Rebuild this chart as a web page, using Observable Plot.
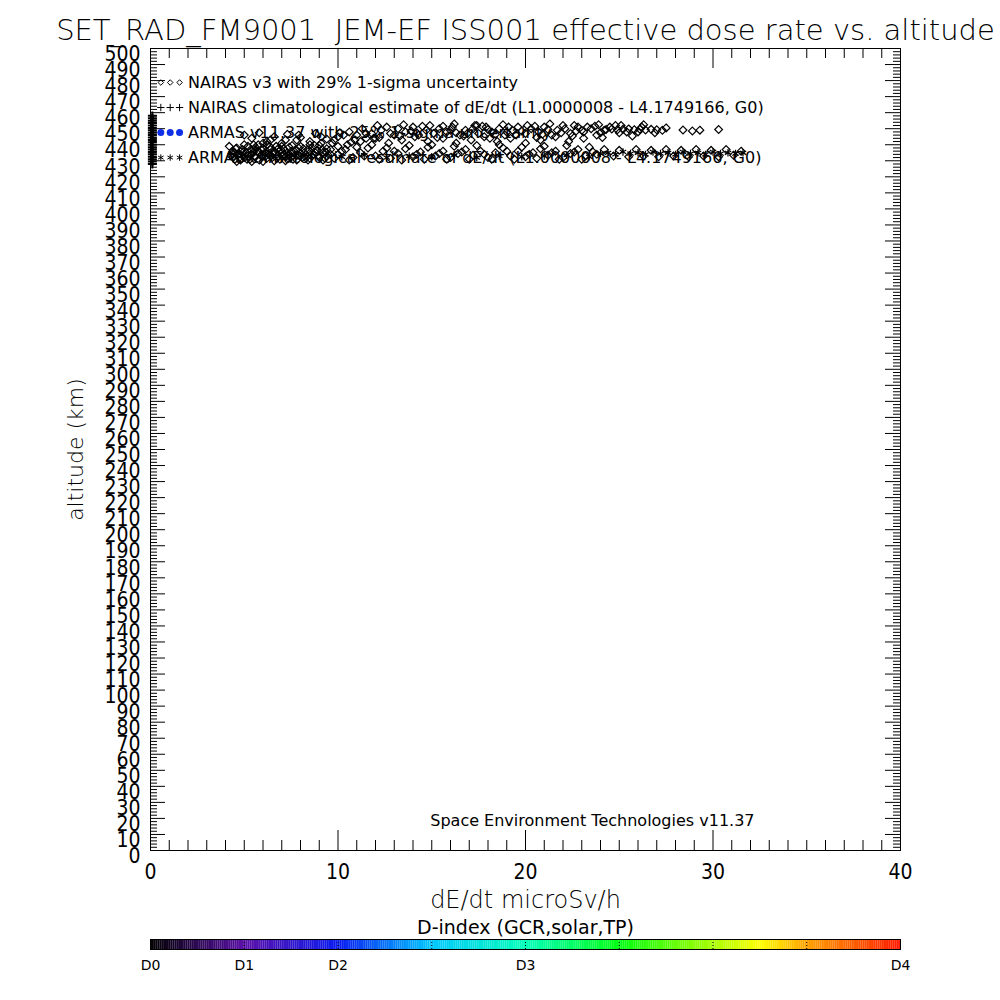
<!DOCTYPE html>
<html><head><meta charset="utf-8">
<script src="https://cdn.jsdelivr.net/npm/d3@7"></script>
<script src="https://cdn.jsdelivr.net/npm/@observablehq/plot@0.6"></script>
<style>
body{margin:0;background:#fff;}
#wrap{width:1000px;height:1000px;background:#fff;}
svg{display:block;}
svg text{white-space:pre;}
</style></head><body><div id="wrap"></div>
<script>
// ---------- texts ----------
const titleText = "SET_RAD_FM9001  JEM-EF ISS001 effective dose rate vs. altitude";
const xLabel = "dE/dt microSv/h";
const yLabel = "altitude (km)";
const footText = "Space Environment Technologies v11.37";
const legendLabels = [
  "NAIRAS v3 with 29% 1-sigma uncertainty",
  "NAIRAS climatological estimate of dE/dt (L1.0000008 - L4.1749166, G0)",
  "ARMAS v11.37 with 25% 1-sigma uncertainty",
  "ARMAS climatological estimate of dE/dt (L1.0000008 - L4.1749166, G0)"
];
const legendAlt = [478.8, 463.2, 447.6, 432.0];
const legendSymX = [0.55, 1.05, 1.55];
const legendTextX = 2.0;

// ---------- axes ----------
const xDomain = [0, 40];
const yDomain = [0, 500];
const xTickLabels = [0, 10, 20, 30, 40];
const yTickLabels = d3.range(0, 501, 10);
const xMinor = d3.range(0, 41, 1).filter(d => d % 10 !== 0);
const yMajor = d3.range(0, 501, 10);
const yMinor = d3.range(0, 501, 2).filter(d => d % 10 !== 0);

// ---------- colour bar ----------
const dIndexLabels = ["D0", "D1", "D2", "D3", "D4"];
const dIndexPos = [0, 1, 2, 4, 8];
const dIndexTicks = [1, 2, 3, 4, 5, 6, 7];
const colorStops = [0, 1, 2, 3, 4, 5, 6, 6.5, 7, 8];
const colorRange = ["#000000", "#5a10a8", "#0a1cf0", "#00c8ff", "#00ffb8", "#00ff10", "#a8ff00", "#ffff00", "#ffa000", "#ff1800"];
const colorbarTitle = "D-index (GCR,solar,TP)";

// ---------- data (x = dE/dt microSv/h, alt = km) ----------
// NAIRAS v3 (diamonds) - upper band
const nairasUpper = [
  [5.4,444],[6.0,441],[6.6,445],[7.2,443],[7.9,446],[8.5,442],[9.1,445],[9.7,441],[10.3,446],[10.9,443],
  [11.5,447],[12.0,444],[12.3,449],[12.8,447],[13.2,450],[13.6,448],[14.0,451],[14.3,446],[14.7,449],[15.1,447],
  [15.4,450],[15.8,448],[16.1,451],[16.5,446],[16.8,449],[17.2,450],[17.5,447],[17.9,451],[18.2,448],[18.6,450],
  [18.9,446],[19.3,449],[19.6,451],[20.0,447],[20.3,450],[20.7,448],[21.0,451],[21.4,446],[21.7,449],[22.1,450],
  [22.4,447],[22.8,451],[23.1,448],[23.5,450],[23.8,446],[24.2,449],[24.5,451],
  [13.0,446],[14.5,451.5],[16.3,447.5],[17.7,451.5],[19.0,448],[20.5,451.5],[21.9,447.5],[23.3,451],
  [24.3,449.5],[24.6,449.8],[24.9,449.3],[25.2,449.6],[25.5,449.9],[25.8,449.4],[26.1,449.7],[26.4,449.2],
  [26.7,449.6],[27.0,449.3],[27.3,449.0],[25.0,447.5],[26.0,448],[23.0,449],
  [28.4,449.2],[28.9,448.6],[29.3,449.1],[30.3,449.5],
  [12.1,452],[13.5,452.5],[14.9,452],[16.2,453],[17.4,452],[18.8,452.5],[20.1,452],[21.3,453],[22.6,452],[23.9,452.5],
  [25.1,452],[26.3,452.5],
  [10.6,448],[11.3,450],[11.8,447],[12.6,451],[13.9,448.5],[14.2,447.5],[15.6,451.5],[16.0,449],[16.9,447],[17.3,452],
  [18.0,449.5],[18.4,446.5],[19.1,451],[19.8,448.5],[20.9,446.5],[21.2,449.5],[22.0,452],[22.7,448.5],[23.7,451.5],[24.0,447.5],
  [24.8,452],[25.4,448],[26.2,451],[26.9,447.5],[27.5,450.5],
  [10.0,445],[11.0,446],[12.2,444.5],[13.3,445.5],[15.3,444.5],[16.7,445.5],[18.1,444],[19.5,446],[20.6,444.5],[22.5,445.5],
  [24.1,444.5],[25.7,445.5],
  [5.0,446],[5.8,447.5],[6.4,443],[7.3,446.5],[8.0,444.5],[8.8,447],[9.4,443.5],[10.1,447.5],[10.7,441.5],[11.5,444]
];
// NAIRAS v3 (diamonds) - middle scatter
const nairasMiddle = [
  [5.5,440],[6.2,442],[7.0,439],[7.8,443],[8.5,440],[9.1,441],[9.8,443],[10.5,440],[11.2,442],[11.9,444],
  [12.7,441],[13.4,443],[14.1,445],[14.8,442],[15.6,444],[16.3,441],[17.1,443],[17.8,445],[18.5,442],[19.2,444],
  [20.0,441],[20.8,443],[21.6,445],[22.3,442],[23.1,444]
];
// NAIRAS v3 (diamonds) - lower band
const nairasLower = [
  [4.3,433],[4.4,436],[4.5,431],[4.6,438],[4.7,434],[4.8,430.5],[4.9,437],[5.0,432],[5.1,435],[5.2,439],
  [5.3,431],[5.4,434],[5.5,437],[5.6,432.5],[5.7,436],[5.8,430.5],[5.9,433],[6.0,438],[6.1,435],[6.2,431.5],
  [6.3,434],[6.4,437],[6.5,432],[6.6,436],[6.7,439],[6.8,433],[6.9,431],[7.0,435],[7.1,437.5],[7.2,432.5],
  [7.4,434],[7.5,436],[7.6,431],[7.8,433.5],[7.9,438],[8.1,432],[8.2,435],[8.4,437],[8.5,431.5],[8.7,434],
  [8.9,436.5],[9.0,432],[9.2,435],[9.4,433],[9.6,437],
  [4.5,435],[5.0,433.5],[5.5,435.5],[6.0,433],[6.5,434.5],[7.0,433],[7.5,432.5],[8.0,434.5],[8.6,433],[9.3,431.5],
  [4.2,439],[4.4,432.5],[4.6,429.5],[4.8,436],[5.0,440],[5.2,433],[5.4,429.5],[5.6,438.5],[5.8,435],[6.0,429.5],
  [6.2,440],[6.4,433.5],[6.6,430],[6.8,437.5],[7.0,441],[7.2,430],[7.4,438.5],[7.6,435],[7.8,430.5],[8.0,439],
  [8.2,433],[8.4,430.5],[8.6,438],[8.8,435],[9.0,439.5],[9.2,430.5],[9.4,437.5],[9.6,434],[9.8,431.5],[10.0,439],
  [4.35,434.5],[4.55,437.5],[4.75,432],[4.95,435.5],[5.15,431],[5.35,437],[5.55,433],[5.75,440],[5.95,436.5],[6.15,433],
  [6.35,439],[6.55,435],[6.75,431.5],[6.95,437],[7.15,434],[7.35,431.5],[7.55,439.5],[7.75,436.5],[7.95,433],[8.15,437.5],
  [8.35,432.5],[8.55,435.5],[8.75,439.5],[8.95,433.5],[9.15,437],[9.35,435.5],
  [10.0,434],[10.4,437],[10.8,432],[11.2,435],[11.6,438],[12.0,433],[12.4,436],[12.8,431.5],[13.2,434.5],[13.6,437.5],
  [14.0,432.5],[14.4,435.5],[14.8,438.5],[15.2,433],[15.6,436],[16.0,432],[16.4,434.5],[16.8,437],[17.2,433.5],[17.6,436],
  [18.0,432],[18.4,435],[18.8,438],[19.2,433],[19.6,436],[20.0,432.5],[20.4,435],[20.8,437.5],[21.2,433.5],[21.6,436],
  [22.0,432],[22.4,434.5],[22.8,437],[23.2,433],[23.6,435.5],
  [10.2,436],[10.6,430.5],[11.0,438.5],[11.4,433],[11.8,440],[12.2,431],[12.6,438],[13.0,436],[13.4,430.5],[13.8,439.5],
  [14.2,434],[14.6,431],[15.0,440],[15.4,434.5],[15.8,431],[16.2,439],[16.6,435.5],[17.0,431],[17.4,439.5],[17.8,434],
  [18.2,431],[18.6,440],[19.0,436],[19.4,431],[19.8,438.5],[20.2,434],[20.6,431.5],[21.0,439],[21.4,435],[21.8,431],
  [22.2,439.5],[22.6,435.5],[23.0,431],[23.4,438.5],[23.8,434],
  [24.2,437],[24.7,433],[25.0,436.5],[25.5,432.5],[25.9,437],[26.3,433],[26.7,436.5],[27.1,432.5],[27.5,437],[27.9,433],
  [28.3,436.5],[28.7,432.5],[29.1,437],[29.5,433],[29.9,436.5],[30.3,432.5],[30.7,437],[31.1,433.5],[31.5,436]
];
// ARMAS climatological estimate (asterisks)
const armasClim = [
  [10.2,432.5],[11.4,433.5],[12.6,432],[13.8,433],[15.0,432.5],[16.2,433.5],[17.4,432],[18.6,433],[19.8,432.5],[21.0,433],
  [22.2,433.5],[23.4,432.5],
  [24.0,434.5],[24.4,435],[24.8,434],[25.2,435.5],[25.6,434.5],[26.0,435],[26.4,434],[26.8,435.5],[27.2,434.5],[27.6,435],
  [28.0,434],[28.4,435.5],[28.8,434.5],[29.2,435],[29.6,434],[30.0,435.5],[30.4,434.5],[30.8,435],[31.2,434.5],[31.6,435]
];
// NAIRAS climatological estimate (plus) at zero dose
const nairasClim = [
  [0.1,428],[0.1,429.5],[0.1,431],[0.1,432.5],[0.1,434],[0.1,435.5],[0.1,437],[0.1,438.5],[0.1,440],[0.1,441.5],
  [0.1,443],[0.1,444.5],[0.1,446],[0.1,447.5],[0.1,449],[0.1,450.5],[0.1,452],[0.1,453.5],[0.1,455],[0.1,456.5],[0.1,458]
];

const diamonds = nairasUpper.concat(nairasMiddle, nairasLower);
const FONT = "'DejaVu Sans Condensed','DejaVu Sans',sans-serif";
const FONT2 = "'DejaVu Sans',sans-serif";

const legendSym = legendAlt.flatMap((a, i) => legendSymX.map(x => ({x, alt: a, row: i})));

const main = Plot.plot({
  width: 1000, height: 915,
  marginLeft: 150, marginRight: 100, marginTop: 48, marginBottom: 65,
  x: {domain: xDomain, axis: null},
  y: {domain: yDomain, axis: null},
  style: {fontFamily: FONT, color: "black", background: "white"},
  marks: [
    Plot.frame({stroke: "black"}),
    // ticks (inward, all four sides)
    Plot.tickX(xTickLabels, {x: d => d, insetTop: 782, stroke: "black"}),
    Plot.tickX(xTickLabels, {x: d => d, insetBottom: 782, stroke: "black"}),
    Plot.tickX(xMinor, {x: d => d, insetTop: 792, stroke: "black"}),
    Plot.tickX(xMinor, {x: d => d, insetBottom: 792, stroke: "black"}),
    Plot.tickY(yMajor, {y: d => d, insetRight: 735, stroke: "black"}),
    Plot.tickY(yMajor, {y: d => d, insetLeft: 735, stroke: "black"}),
    Plot.tickY(yMinor, {y: d => d, insetRight: 743, stroke: "black"}),
    Plot.tickY(yMinor, {y: d => d, insetLeft: 743, stroke: "black"}),
    // tick labels
    Plot.text(xTickLabels, {x: d => d, text: d => String(d), frameAnchor: "bottom", lineAnchor: "middle", dy: 22, fontSize: 21, fill: "black"}),
    Plot.text(yTickLabels, {y: d => d, text: d => String(d), frameAnchor: "left", lineAnchor: "middle", dx: -10, dy: 6, textAnchor: "end", fontSize: 21, fill: "black"}),
    // titles
    Plot.text([titleText], {text: d => d, frameAnchor: "top", lineAnchor: "middle", textAnchor: "middle", dy: -18, fontSize: 29, fontFamily: FONT2, fontWeight: 200, fill: "black"}),
    Plot.text([xLabel], {text: d => d, frameAnchor: "bottom", lineAnchor: "middle", textAnchor: "middle", dy: 50, fontSize: 24, fontFamily: FONT2, fontWeight: 200, fill: "black"}),
    Plot.text([yLabel], {text: d => d, frameAnchor: "left", lineAnchor: "middle", textAnchor: "middle", dx: -75, rotate: -90, fontSize: 22, fontFamily: FONT2, fontWeight: 200, fill: "black"}),
    Plot.text([footText], {text: d => d, frameAnchor: "bottom-right", lineAnchor: "middle", textAnchor: "end", dx: -146, dy: -30, fontSize: 16, fontFamily: FONT2, fill: "black"}),
    // legend text
    Plot.text(legendLabels, {x: () => legendTextX, y: (d, i) => legendAlt[i], text: d => d, textAnchor: "start", lineAnchor: "middle", fontSize: 16, fontFamily: FONT2, fill: "black"}),
    Plot.dot(legendSym.filter(d => d.row === 0), {x: "x", y: "alt", symbol: "diamond2", r: 2.5, stroke: "black", strokeWidth: 1}),
    Plot.dot(legendSym.filter(d => d.row === 1), {x: "x", y: "alt", symbol: "plus", r: 2.5, stroke: "black", strokeWidth: 1}),
    Plot.dot(legendSym.filter(d => d.row === 2), {x: "x", y: "alt", symbol: "circle", r: 3.5, fill: "#1030e8", stroke: "none"}),
    Plot.dot(legendSym.filter(d => d.row === 3), {x: "x", y: "alt", symbol: "asterisk", r: 3, stroke: "black", strokeWidth: 1}),
    // data
    Plot.dot(nairasClim, {x: d => d[0], y: d => d[1], symbol: "plus", r: 3, stroke: "black", strokeWidth: 2}),
    Plot.dot(diamonds, {x: d => d[0], y: d => d[1], symbol: "diamond2", r: 3.5, stroke: "black", strokeWidth: 1.2, fill: "none"}),
    Plot.dot(armasClim, {x: d => d[0], y: d => d[1], symbol: "asterisk", r: 3.5, stroke: "black", strokeWidth: 1.2})
  ]
});

const ramp = d3.range(0, 8, 0.02);
const bar = Plot.plot({
  width: 1000, height: 85,
  marginLeft: 150, marginRight: 100, marginTop: 24, marginBottom: 51,
  x: {domain: [0, 8], axis: null},
  y: {axis: null},
  color: {type: "linear", domain: colorStops, range: colorRange, interpolate: "rgb"},
  style: {fontFamily: FONT2, color: "black", background: "white"},
  marks: [
    Plot.barX(ramp, {x1: d => d, x2: d => d + 0.021, fill: d => d}),
    Plot.tickX(dIndexTicks, {x: d => d, stroke: "black", strokeDasharray: "1,2"}),
    Plot.frame({stroke: "black"}),
    Plot.text(dIndexPos, {x: d => d, text: (d, i) => dIndexLabels[i], frameAnchor: "bottom", lineAnchor: "middle", dy: 16, fontSize: 14, fill: "black"}),
    Plot.text([colorbarTitle], {text: d => d, frameAnchor: "top", lineAnchor: "middle", dy: -12, fontSize: 19, fill: "black"})
  ]
});

document.getElementById("wrap").append(main, bar);
</script></body></html>
